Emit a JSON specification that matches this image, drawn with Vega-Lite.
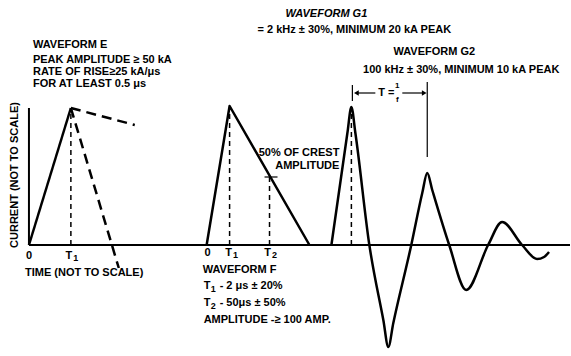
{
  "$schema": "https://vega.github.io/schema/vega-lite/v6.json",
  "width": 571,
  "height": 356,
  "autosize": {"type": "fit", "contains": "padding"},
  "padding": 0,
  "background": "white",
  "config": {"view": {"stroke": null}, "text": {"font": "Liberation Sans", "fontWeight": "bold", "fontSize": 11, "color": "black", "baseline": "middle"}},
  "datasets": {
    "solid": [
      {"seg": "E", "k": 0, "t": 29, "i": 0},
      {"seg": "E", "k": 1, "t": 71, "i": 137},
      {"seg": "F", "k": 0, "t": 207, "i": 0},
      {"seg": "F", "k": 1, "t": 230, "i": 139},
      {"seg": "F", "k": 2, "t": 310, "i": 0}
    ],
    "g": [
      {"t": 332, "i": 0}, {"t": 348, "i": 112}, {"t": 352, "i": 138}, {"t": 356, "i": 112},
      {"t": 370, "i": 0}, {"t": 384, "i": -75}, {"t": 389, "i": -102}, {"t": 394, "i": -78},
      {"t": 412, "i": 0}, {"t": 423, "i": 52}, {"t": 428, "i": 72}, {"t": 433, "i": 55},
      {"t": 450, "i": 0}, {"t": 467, "i": -45},
      {"t": 489, "i": 0}, {"t": 503, "i": 23},
      {"t": 523, "i": 0}, {"t": 538, "i": -14}, {"t": 545, "i": -12},
      {"t": 550, "i": -7}
    ],
    "dash": [
      {"t": 71, "i": 137, "t2": 135, "i2": 120},
      {"t": 71, "i": 137, "t2": 119, "i2": -23}
    ],
    "vdash": [
      {"t": 71, "i": 0, "t2": 71, "i2": 135},
      {"t": 230, "i": 0, "t2": 230, "i2": 136},
      {"t": 270, "i": 0, "t2": 270, "i2": 68},
      {"t": 352, "i": 0, "t2": 352, "i2": 132}
    ],
    "axes": [
      {"t": 29, "i": 0, "t2": 571, "i2": 0},
      {"t": 29, "i": 0, "t2": 29, "i2": 137}
    ],
    "thin": [
      {"t": 265, "i": 68, "t2": 278, "i2": 68},
      {"t": 353, "i": 160, "t2": 353, "i2": 144},
      {"t": 428, "i": 163, "t2": 428, "i2": 88},
      {"t": 358, "i": 152, "t2": 376, "i2": 152},
      {"t": 403, "i": 152, "t2": 425, "i2": 152}
    ],
    "arrowL": [{"t": 357, "i": 152}],
    "arrowR": [{"t": 425, "i": 152}],
    "textL": [
      {"label": "WAVEFORM E", "t": 33, "i": 200},
      {"label": "PEAK AMPLITUDE ≥ 50 kA", "t": 33, "i": 185},
      {"label": "RATE OF RISE≥25 kA/μs", "t": 33, "i": 173},
      {"label": "FOR AT LEAST 0.5 μs", "t": 33, "i": 161},
      {"label": "TIME (NOT TO SCALE)", "t": 25, "i": -28},
      {"label": "WAVEFORM F", "t": 203, "i": -25},
      {"label": "AMPLITUDE -≥ 100 AMP.", "t": 204, "i": -75}
    ],
    "tsubL": [
      {"pre": "T", "sub": "1", "rest": "- 2 μs ± 20%", "t": 204, "i": -41},
      {"pre": "T", "sub": "2", "rest": "- 50μs ± 50%", "t": 204, "i": -58}
    ],
    "tsubC": [
      {"pre": "T", "sub": "1", "t": 72, "i": -11},
      {"pre": "T", "sub": "1", "t": 232, "i": -8},
      {"pre": "T", "sub": "2", "t": 271, "i": -8}
    ],
    "textC": [
      {"label": "= 2 kHz ± 30%, MINIMUM 20 kA PEAK", "t": 355, "i": 215},
      {"label": "WAVEFORM G2", "t": 435, "i": 193},
      {"label": "100 kHz ± 30%, MINIMUM 10 kA PEAK", "t": 462, "i": 175},
      {"label": "0", "t": 29, "i": -11},
      {"label": "0", "t": 208, "i": -8},
      {"label": "T =", "t": 387, "i": 152}
    ],
    "textI": [
      {"label": "WAVEFORM G1", "t": 327, "i": 231}
    ],
    "textS": [
      {"label": "1", "t": 398, "i": 159},
      {"label": "f", "t": 398, "i": 145}
    ],
    "textR": [
      {"label": "50% OF CREST", "t": 340, "i": 92},
      {"label": "AMPLITUDE", "t": 340, "i": 79}
    ],
    "textV": [
      {"label": "CURRENT (NOT TO SCALE)", "t": 15, "i": 70}
    ]
  },
  "encoding": {
    "x": {"field": "t", "type": "quantitative", "axis": null, "scale": {"domain": [0, 571], "nice": false, "zero": false}},
    "y": {"field": "i", "type": "quantitative", "axis": null, "scale": {"domain": [-111, 245], "nice": false, "zero": false}}
  },
  "layer": [
    {"data": {"name": "axes"}, "mark": {"type": "rule", "strokeWidth": 2, "color": "black"},
     "encoding": {"x2": {"field": "t2"}, "y2": {"field": "i2"}}},
    {"data": {"name": "vdash"}, "mark": {"type": "rule", "strokeWidth": 1.5, "color": "black", "strokeDash": [5, 4]},
     "encoding": {"x2": {"field": "t2"}, "y2": {"field": "i2"}}},
    {"data": {"name": "dash"}, "mark": {"type": "rule", "strokeWidth": 2.5, "color": "black", "strokeDash": [10, 6]},
     "encoding": {"x2": {"field": "t2"}, "y2": {"field": "i2"}}},
    {"data": {"name": "thin"}, "mark": {"type": "rule", "strokeWidth": 1.2, "color": "black"},
     "encoding": {"x2": {"field": "t2"}, "y2": {"field": "i2"}}},
    {"data": {"name": "solid"}, "mark": {"type": "line", "strokeWidth": 2.5, "color": "black", "strokeJoin": "round"},
     "encoding": {"detail": {"field": "seg"}, "order": {"field": "k", "type": "quantitative"}}},
    {"data": {"name": "g"}, "mark": {"type": "line", "strokeWidth": 2.5, "color": "black", "interpolate": "monotone"},
     "encoding": {}},
    {"data": {"name": "arrowL"}, "mark": {"type": "point", "shape": "triangle-left", "filled": true, "size": 30, "color": "black", "opacity": 1}},
    {"data": {"name": "arrowR"}, "mark": {"type": "point", "shape": "triangle-right", "filled": true, "size": 30, "color": "black", "opacity": 1}},
    {"data": {"name": "textL"}, "mark": {"type": "text", "align": "left"}, "encoding": {"text": {"field": "label"}}},
    {"data": {"name": "tsubL"}, "mark": {"type": "text", "align": "left"}, "encoding": {"text": {"field": "pre"}}},
    {"data": {"name": "tsubL"}, "mark": {"type": "text", "align": "left", "dx": 7, "dy": 3, "fontSize": 9}, "encoding": {"text": {"field": "sub"}}},
    {"data": {"name": "tsubL"}, "mark": {"type": "text", "align": "left", "dx": 16}, "encoding": {"text": {"field": "rest"}}},
    {"data": {"name": "tsubC"}, "mark": {"type": "text", "align": "center", "dx": -3}, "encoding": {"text": {"field": "pre"}}},
    {"data": {"name": "tsubC"}, "mark": {"type": "text", "align": "center", "dx": 4, "dy": 2, "fontSize": 9}, "encoding": {"text": {"field": "sub"}}},
    {"data": {"name": "textC"}, "mark": {"type": "text", "align": "center"}, "encoding": {"text": {"field": "label"}}},
    {"data": {"name": "textI"}, "mark": {"type": "text", "align": "center", "fontStyle": "italic"}, "encoding": {"text": {"field": "label"}}},
    {"data": {"name": "textS"}, "mark": {"type": "text", "align": "center", "fontSize": 8}, "encoding": {"text": {"field": "label"}}},
    {"data": {"name": "textR"}, "mark": {"type": "text", "align": "right"}, "encoding": {"text": {"field": "label"}}},
    {"data": {"name": "textV"}, "mark": {"type": "text", "align": "center", "angle": 270}, "encoding": {"text": {"field": "label"}}}
  ]
}
